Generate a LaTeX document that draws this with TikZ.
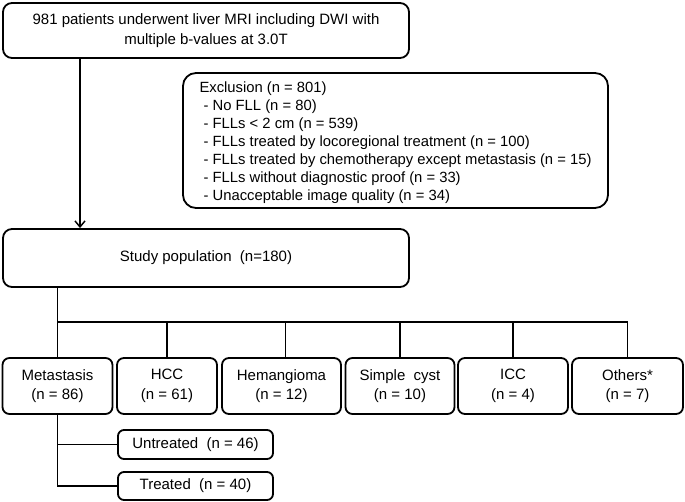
\documentclass[tikz,border=0pt]{standalone}
\usepackage{fontspec}
\setmainfont{Liberation Sans}
\usetikzlibrary{arrows.meta}

\begin{document}
\begin{tikzpicture}[x=1pt, y=-1pt]
        % ================= styles =================
        \tikzset{
            % rounded white box, black border
            fbox/.style={draw=black, line width=1.8pt, rounded corners=9pt, fill=white,
                         inner sep=0pt, align=center, font=\fontsize{15}{19.5}\selectfont},
            % small class boxes
            cbox/.style={fbox, rounded corners=7pt, minimum width=108pt, minimum height=56pt},
            % sub boxes under metastasis
            sbox/.style={fbox, rounded corners=6pt, minimum width=155pt, minimum height=28pt},
            % plain connector
            link/.style={line width=1.8pt, black},
            % arrow connector
            arrowlink/.style={link, -{Straight Barb[length=6pt, width=10pt, line width=1.5pt]}}
        }

        \useasboundingbox (0,0) rectangle (685,502);

        % ================= upper part =================
        \node[fbox, minimum width=406pt, minimum height=55pt] (screen) at (206,30.5)
            {981 patients underwent liver MRI including DWI with\\ multiple b-values at 3.0T};

        \node[fbox, rounded corners=13pt, minimum width=425pt, minimum height=135pt,
              align=left, font=\fontsize{14.8}{18}\selectfont] (excl) at (395.5,140.5)
            {\rule{0pt}{16pt}Exclusion (n = 801)\\
             \ - No FLL (n = 80)\\
             \ - FLLs < 2 cm (n = 539)\\
             \ - FLLs treated by locoregional treatment (n = 100)\\
             \ - FLLs treated by chemotherapy except metastasis (n = 15)\\
             \ - FLLs without diagnostic proof (n = 33)\\
             \ - Unacceptable image quality (n = 34)};

        \node[fbox, minimum width=406pt, minimum height=58pt] (study) at (206,258)
            {Study population \ (n=180)};

        % arrow from screening to study population
        \coordinate (ax) at (80,0);
        \draw[arrowlink] (screen.south -| ax) -- (study.north -| ax);

        % ================= lesion classes =================
        \node[cbox, minimum width=110pt] (met)  at (57.5,386)  {Metastasis\\(n = 86)};
        \node[cbox, minimum width=100pt] (hcc)  at (167,386)   {HCC\\(n = 61)};
        \node[cbox, minimum width=119pt] (hem)  at (281.5,386) {Hemangioma\\(n = 12)};
        \node[cbox, minimum width=109pt] (cyst) at (400,386)   {Simple \ cyst\\(n = 10)};
        \node[cbox, minimum width=110pt] (icc)  at (513,386)   {ICC\\(n = 4)};
        \node[cbox, minimum width=111pt] (oth)  at (627.5,386) {Others*\\(n = 7)};

        % tree from study population
        \coordinate (bus) at (0,322);
        \coordinate (hemtop) at ([xshift=4pt]hem.north);
        \draw[link] (study.south -| met) -- (met.north);
        \draw[link] (met |- bus) -- (oth |- bus);
        \foreach \b in {hcc.north, hemtop, cyst.north, icc.north, oth.north}
            \draw[link] (\b |- bus) -- (\b);

        % ================= metastasis subgroups =================
        \node[sbox, minimum height=29pt] (untr) at (195.5,444.5) {Untreated \ (n = 46)};
        \node[sbox] (treat) at (195.5,486) {Treated \ (n = 40)};

        \draw[link] (met.south) |- (treat.west);
        \draw[link] (met.south |- untr.west) -- (untr.west);

    \end{tikzpicture}
\end{document}
